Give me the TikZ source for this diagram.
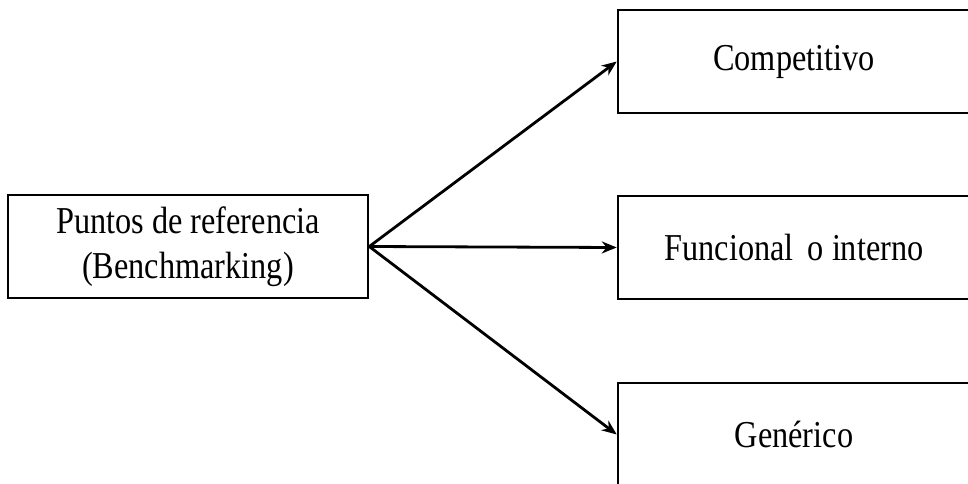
\documentclass[tikz,border=0pt]{standalone}
\usepackage{fontspec}
\usepackage{tikz}
\usetikzlibrary{arrows.meta}
\newfontfamily\boxfont[FakeStretch=0.85]{Liberation Serif}

\begin{document}
\begin{tikzpicture}[x=1pt,y=1pt,
   box/.style={draw,line width=2.5pt,minimum height=103pt,inner sep=0pt,align=center,font=\boxfont\fontsize{38}{45}\selectfont},
   arr/.style={line width=2.8pt,-{Stealth[length=15pt,width=12pt]}}]
   \useasboundingbox (0,0) rectangle (968,483); % page
   \node [box,minimum width=360pt] (bench) at (188,236.5) {Puntos de referencia\\(Benchmarking)}; % left box
   \node [box,minimum width=352pt] (comp) at (794,421.5) {Competitivo};
   \node [box,minimum width=352pt] (func) at (794,235.5) {Funcional\hspace{6pt} o interno};
   \node [box,minimum width=352pt] (gen) at (794,48.5) {Genérico};
   \draw [arr] (bench.east) -- (comp.west); % arrows
   \draw [arr] (bench.east) -- (func.west);
   \draw [arr] (bench.east) -- (gen.west);
\end{tikzpicture}
\end{document}
